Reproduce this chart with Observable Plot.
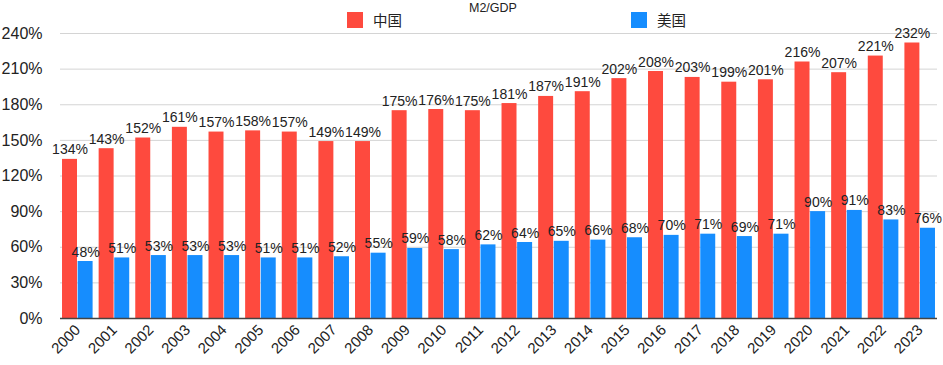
<!DOCTYPE html>
<html>
<head>
<meta charset="utf-8">
<script src="https://cdn.jsdelivr.net/npm/d3@7"></script>
<script src="https://cdn.jsdelivr.net/npm/@observablehq/plot@0.6"></script>
<style>
  html, body { margin: 0; padding: 0; background: #fff; }
  #wrap { position: relative; width: 943px; height: 365px; font-family: "Liberation Sans", Arial, Helvetica, sans-serif; color: #222; }
  #title { position: absolute; left: 469px; top: 1px; font-size: 12.5px; }
  .leg { position: absolute; top: 12px; display: flex; align-items: center; font-size: 14.5px; font-family: "Noto Sans CJK SC", "Liberation Sans", sans-serif; line-height: 16px; }
  .sw { width: 16px; height: 16px; margin-right: 10px; }
  #chart { position: absolute; left: 0; top: 0; }
</style>
</head>
<body>
<div id="wrap">
  <div id="chart"></div>
  <div id="title">M2/GDP</div>
  <div id="legend"></div>
</div>
<script>
const years = ["2000","2001","2002","2003","2004","2005","2006","2007","2008","2009","2010","2011","2012","2013","2014","2015","2016","2017","2018","2019","2020","2021","2022","2023"];
const seriesNames = ["中国", "美国"];
const seriesColors = ["#fe4a3e", "#168dfe"];
const china = [134,143,152,161,157,158,157,149,149,175,176,175,181,187,191,202,208,203,199,201,216,207,221,232];
const us = [48,51,53,53,53,51,51,52,55,59,58,62,64,65,66,68,70,71,69,71,90,91,83,76];
const yTicks = [0,30,60,90,120,150,180,210,240];

const chinaRows = years.map((y, i) => ({year: y, series: seriesNames[0], value: china[i]}));
const usRows = years.map((y, i) => ({year: y, series: seriesNames[1], value: us[i]}));

const half = 15.6;   // half of the year band, in px
const shift = 7.8;   // label offset from band centre

const chart = Plot.plot({
  width: 943,
  height: 365,
  marginLeft: 60,
  marginRight: 6,
  marginTop: 33,
  marginBottom: 47,
  style: {fontFamily: "'Liberation Sans', Arial, Helvetica, sans-serif", color: "#222", background: "transparent"},
  x: {domain: years, type: "band", paddingInner: 0.165, paddingOuter: 0.055, round: false, label: null},
  y: {domain: [0, 240], label: null},
  color: {domain: seriesNames, range: seriesColors},
  marks: [
    Plot.gridY(yTicks, {stroke: "#d4d4d4", strokeOpacity: 1, strokeWidth: 1}),
    Plot.axisY({ticks: yTicks, tickFormat: d => d + "%", tickSize: 0, tickPadding: 18, fontSize: 16, label: null}),
    Plot.axisX({tickRotate: -45, tickSize: 0, tickPadding: 9, fontSize: 15, label: null}),
    Plot.barY(chinaRows, {x: "year", y: "value", fill: "series", insetRight: half}),
    Plot.barY(usRows, {x: "year", y: "value", fill: "series", insetLeft: half}),
    Plot.text(chinaRows, {x: "year", y: "value", text: d => d.value + "%", lineAnchor: "bottom", dy: -5, dx: -shift, fontSize: 14, fill: "#222"}),
    Plot.text(usRows, {x: "year", y: "value", text: d => d.value + "%", lineAnchor: "bottom", dy: -5, dx: shift, fontSize: 14, fill: "#222"}),
    Plot.ruleY([0], {stroke: "#444", strokeWidth: 1.5})
  ]
});
document.getElementById("chart").appendChild(chart);

const legend = document.getElementById("legend");
const legendX = [347, 631];
seriesNames.forEach((name, i) => {
  const item = document.createElement("div");
  item.className = "leg";
  item.style.left = legendX[i] + "px";
  const sw = document.createElement("div");
  sw.className = "sw";
  sw.style.background = seriesColors[i];
  const label = document.createElement("span");
  label.textContent = name;
  item.appendChild(sw);
  item.appendChild(label);
  legend.appendChild(item);
});
</script>
</body>
</html>
